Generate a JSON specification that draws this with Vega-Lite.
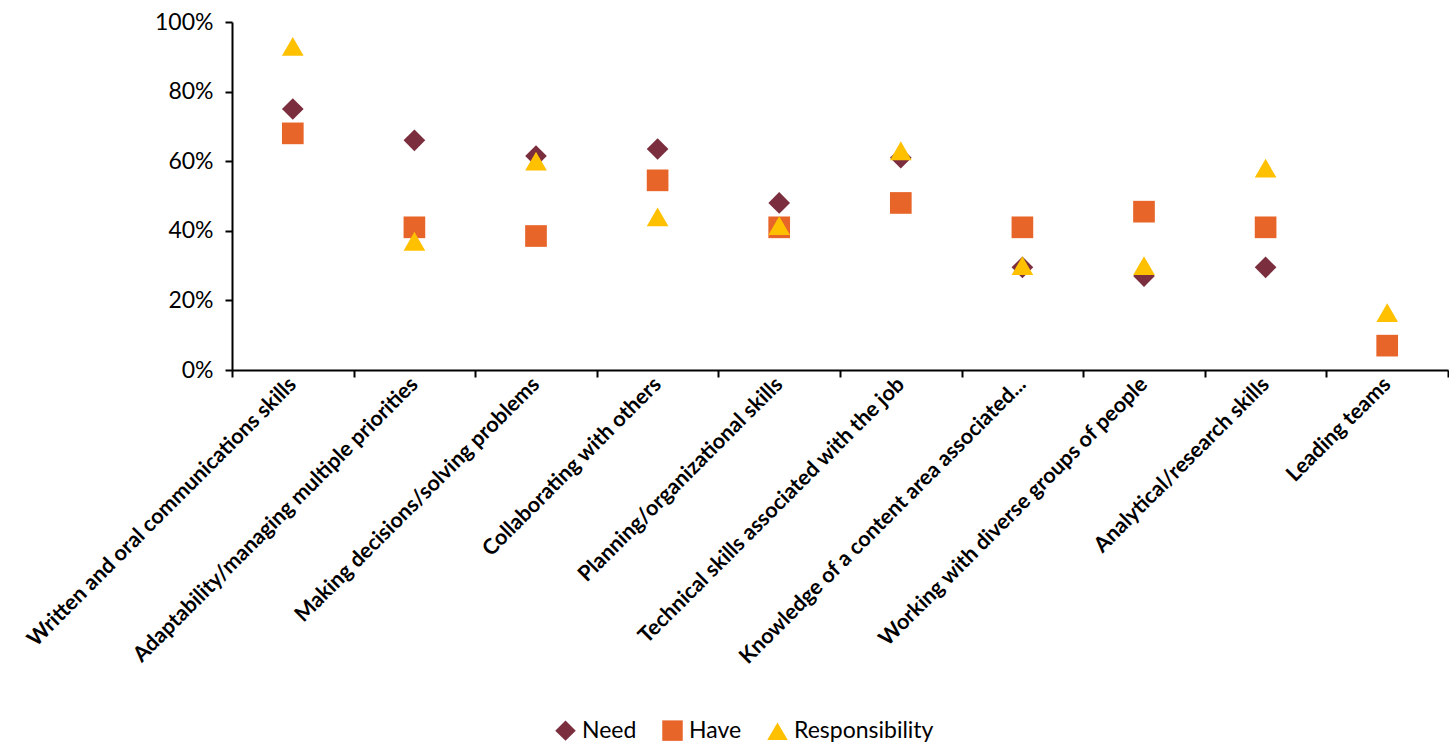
{
  "$schema": "https://vega.github.io/schema/vega-lite/v6.json",
  "autosize": {"type": "none"},
  "padding": {"left": 232, "top": 22, "right": 1, "bottom": 375},
  "width": 1216,
  "height": 348,
  "background": "white",
  "config": {
    "font": "Lato",
    "view": {"stroke": null}
  },
  "data": {
    "values": [
      {"skill": "Written and oral communications skills", "series": "Need", "value": 0.75},
      {"skill": "Adaptability/managing multiple priorities", "series": "Need", "value": 0.66},
      {"skill": "Making decisions/solving problems", "series": "Need", "value": 0.615},
      {"skill": "Collaborating with others", "series": "Need", "value": 0.635},
      {"skill": "Planning/organizational skills", "series": "Need", "value": 0.48},
      {"skill": "Technical skills associated with the job", "series": "Need", "value": 0.61},
      {"skill": "Knowledge of a content area associated...", "series": "Need", "value": 0.295},
      {"skill": "Working with diverse groups of people", "series": "Need", "value": 0.27},
      {"skill": "Analytical/research skills", "series": "Need", "value": 0.295},
      {"skill": "Written and oral communications skills", "series": "Have", "value": 0.68},
      {"skill": "Adaptability/managing multiple priorities", "series": "Have", "value": 0.41},
      {"skill": "Making decisions/solving problems", "series": "Have", "value": 0.385},
      {"skill": "Collaborating with others", "series": "Have", "value": 0.545},
      {"skill": "Planning/organizational skills", "series": "Have", "value": 0.41},
      {"skill": "Technical skills associated with the job", "series": "Have", "value": 0.48},
      {"skill": "Knowledge of a content area associated...", "series": "Have", "value": 0.41},
      {"skill": "Working with diverse groups of people", "series": "Have", "value": 0.455},
      {"skill": "Analytical/research skills", "series": "Have", "value": 0.41},
      {"skill": "Leading teams", "series": "Have", "value": 0.07},
      {"skill": "Written and oral communications skills", "series": "Responsibility", "value": 0.93},
      {"skill": "Adaptability/managing multiple priorities", "series": "Responsibility", "value": 0.37},
      {"skill": "Making decisions/solving problems", "series": "Responsibility", "value": 0.6},
      {"skill": "Collaborating with others", "series": "Responsibility", "value": 0.44},
      {"skill": "Planning/organizational skills", "series": "Responsibility", "value": 0.415},
      {"skill": "Technical skills associated with the job", "series": "Responsibility", "value": 0.63},
      {"skill": "Knowledge of a content area associated...", "series": "Responsibility", "value": 0.3},
      {"skill": "Working with diverse groups of people", "series": "Responsibility", "value": 0.3},
      {"skill": "Analytical/research skills", "series": "Responsibility", "value": 0.58},
      {"skill": "Leading teams", "series": "Responsibility", "value": 0.165}
    ]
  },
  "mark": {"type": "point", "filled": true, "opacity": 1, "size": 470},
  "encoding": {
    "x": {
      "field": "skill",
      "type": "nominal",
      "sort": [
        "Written and oral communications skills",
        "Adaptability/managing multiple priorities",
        "Making decisions/solving problems",
        "Collaborating with others",
        "Planning/organizational skills",
        "Technical skills associated with the job",
        "Knowledge of a content area associated...",
        "Working with diverse groups of people",
        "Analytical/research skills",
        "Leading teams"
      ],
      "scale": {"paddingInner": 0, "paddingOuter": 0},
      "axis": {
        "title": null,
        "labelAngle": -45,
        "labelAlign": "right",
        "labelBaseline": "middle",
        "labelFont": "Lato",
        "labelFontWeight": "bold",
        "labelFontSize": 21.5,
        "labelColor": "black",
        "labelPadding": 4,
        "labelLimit": 0,
        "tickBand": "extent",
        "tickSize": 7,
        "tickWidth": 2,
        "tickColor": "black",
        "domainColor": "black",
        "domainWidth": 2
      }
    },
    "y": {
      "field": "value",
      "type": "quantitative",
      "scale": {"domain": [0, 1], "nice": false},
      "axis": {
        "title": null,
        "format": ".0%",
        "values": [0, 0.2, 0.4, 0.6, 0.8, 1],
        "grid": false,
        "labelFont": "Lato",
        "labelFontSize": 23,
        "labelColor": "black",
        "labelPadding": 12,
        "tickSize": 7,
        "tickWidth": 2,
        "tickColor": "black",
        "domainColor": "black",
        "domainWidth": 2
      }
    },
    "color": {
      "field": "series",
      "type": "nominal",
      "scale": {"domain": ["Need", "Have", "Responsibility"], "range": ["#7A2E3E", "#E8652A", "#FFC000"]},
      "legend": {
        "title": null,
        "orient": "none",
        "direction": "horizontal",
        "legendX": 322,
        "legendY": 697,
        "labelFont": "Lato",
        "labelFontSize": 23,
        "labelColor": "black",
        "symbolSize": 420,
        "symbolOpacity": 1,
        "columnPadding": 22,
        "labelOffset": 5
      }
    },
    "shape": {
      "field": "series",
      "type": "nominal",
      "scale": {"domain": ["Need", "Have", "Responsibility"], "range": ["diamond", "square", "triangle-up"]}
    }
  }
}
